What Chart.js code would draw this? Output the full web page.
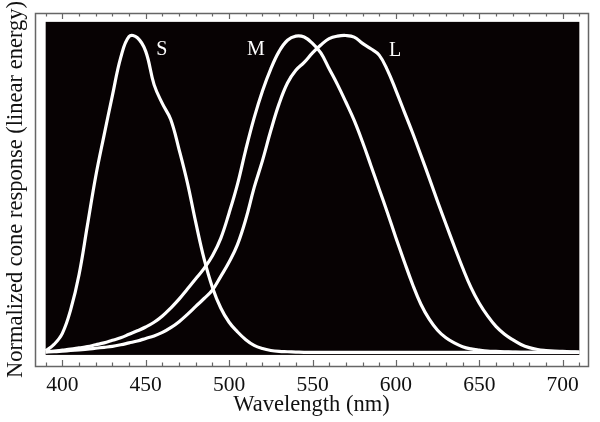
<!DOCTYPE html>
<html>
<head>
<meta charset="utf-8">
<title>Cone fundamentals</title>
<script src="https://cdn.jsdelivr.net/npm/chart.js@4.4.0/dist/chart.umd.min.js"></script>
<style>
  html, body { margin: 0; padding: 0; background: #fff; }
  #wrap { width: 600px; height: 422px; }
</style>
</head>
<body>
<div id="wrap"><canvas id="coneChart" width="600" height="422"></canvas></div>
<script>
// wavelength samples (nm)
const wavelengths = [
  390, 395, 400, 405, 410, 415, 420, 425, 430, 435, 440, 445, 450, 455, 460, 465, 470,
  475, 480, 485, 490, 495, 500, 505, 510, 515, 520, 525, 530, 535, 540, 545, 550,
  555, 560, 565, 570, 575, 580, 585, 590, 595, 600, 605, 610, 615, 620, 625, 630,
  635, 640, 645, 650, 655, 660, 665, 670, 675, 680, 685, 690, 695, 700, 705, 710
];

// normalized cone responses
const sCone = [
  0.005, 0.025, 0.06, 0.135, 0.245, 0.40, 0.555, 0.685, 0.81, 0.93, 0.997, 0.993, 0.95, 0.845, 0.785, 0.735, 0.64,
  0.535, 0.41, 0.295, 0.205, 0.14, 0.095, 0.065, 0.04, 0.022, 0.012, 0.006, 0.003, 0.002, 0.001, 0, 0,
  0, 0, 0, 0, 0, 0, 0, 0, 0, 0, 0, 0, 0, 0, 0, 0,
  0, 0, 0, 0, 0, 0, 0, 0, 0, 0, 0, 0, 0, 0, 0, 0
];
const mCone = [
  0.002, 0.004, 0.007, 0.01, 0.014, 0.018, 0.024, 0.03, 0.038, 0.046, 0.057, 0.068, 0.08, 0.095, 0.115, 0.14, 0.168,
  0.2, 0.232, 0.265, 0.305, 0.36, 0.44, 0.53, 0.64, 0.74, 0.825, 0.895, 0.95, 0.985, 0.998, 0.995, 0.975,
  0.945, 0.895, 0.845, 0.79, 0.732, 0.664, 0.59, 0.515, 0.44, 0.362, 0.287, 0.215, 0.152, 0.105, 0.07, 0.046,
  0.03, 0.018, 0.011, 0.007, 0.004, 0.003, 0.002, 0.001, 0, 0, 0, 0, 0, 0, 0, 0
];
const lCone = [
  0.001, 0.002, 0.004, 0.006, 0.008, 0.01, 0.013, 0.016, 0.019, 0.024, 0.03, 0.036, 0.044, 0.052, 0.063, 0.078, 0.097,
  0.12, 0.145, 0.17, 0.197, 0.24, 0.285, 0.34, 0.42, 0.52, 0.605, 0.70, 0.785, 0.85, 0.89, 0.915, 0.945,
  0.97, 0.99, 0.998, 1.0, 0.995, 0.975, 0.958, 0.938, 0.89, 0.827, 0.76, 0.693, 0.622, 0.55, 0.476, 0.405,
  0.335, 0.267, 0.205, 0.155, 0.115, 0.082, 0.058, 0.04, 0.025, 0.015, 0.009, 0.006, 0.004, 0.003, 0.002, 0.001
];
const coneNames = ["S", "M", "L"];

const serif = '"Liberation Serif", "DejaVu Serif", serif';
Chart.defaults.font.family = serif;
Chart.defaults.font.size = 21.5;
Chart.defaults.color = "#111";

const toPoints = (vals) => wavelengths.map((w, i) => ({ x: w, y: vals[i] }));

// black plotting field inside the frame
const plotField = {
  id: "plotField",
  beforeDatasetsDraw(chart) {
    const { ctx, scales: { x, y } } = chart;
    const l = x.getPixelForValue(390), r = x.getPixelForValue(710);
    const t = y.getPixelForValue(1.043), b = y.getPixelForValue(-0.008);
    ctx.save();
    ctx.fillStyle = "#070203";
    ctx.fillRect(l, t, r - l, b - t);
    ctx.restore();
  },
};

// grey frame with inward ticks on top and bottom
const frame = {
  id: "frame",
  afterDraw(chart) {
    const { ctx, chartArea: a, scales: { x } } = chart;
    ctx.save();
    ctx.strokeStyle = "#666";
    ctx.lineWidth = 1.5;
    ctx.strokeRect(a.left + 0.5, a.top + 0.5, a.right - a.left, a.bottom - a.top);
    ctx.lineWidth = 1.2;
    ctx.beginPath();
    x.ticks.forEach((t) => {
      const px = Math.round(x.getPixelForValue(t.value)) + 0.5;
      const len = t.value % 50 === 0 ? 6 : 3.5;
      ctx.moveTo(px, a.top);
      ctx.lineTo(px, a.top + len);
      ctx.moveTo(px, a.bottom);
      ctx.lineTo(px, a.bottom - len);
    });
    ctx.stroke();
    ctx.restore();
  },
};

// curve labels
const coneLabels = {
  id: "coneLabels",
  afterDatasetsDraw(chart) {
    const { ctx, scales: { x, y } } = chart;
    const spots = [[459.6, 0.955], [516, 0.955], [599.5, 0.953]];
    ctx.save();
    ctx.fillStyle = "#fff";
    ctx.font = "20px " + serif;
    ctx.textAlign = "center";
    ctx.textBaseline = "middle";
    coneNames.forEach((n, i) => {
      ctx.fillText(n, x.getPixelForValue(spots[i][0]), y.getPixelForValue(spots[i][1]));
    });
    ctx.restore();
  },
};

const lineStyle = {
  borderColor: "#fff",
  borderWidth: 3.2,
  pointRadius: 0,
  fill: false,
  tension: 0.4,
};

new Chart(document.getElementById("coneChart"), {
  type: "line",
  data: {
    datasets: [
      { label: coneNames[0], data: toPoints(sCone), ...lineStyle },
      { label: coneNames[1], data: toPoints(mCone), ...lineStyle },
      { label: coneNames[2], data: toPoints(lCone), ...lineStyle },
    ],
  },
  options: {
    responsive: false,
    animation: false,
    layout: { padding: { top: 13, right: 12, left: 0, bottom: 0 } },
    plugins: {
      legend: { display: false },
      tooltip: { enabled: false },
    },
    scales: {
      x: {
        type: "linear",
        min: 383.6,
        max: 715.2,
        grid: { display: false, drawTicks: false },
        border: { display: false },
        ticks: {
          stepSize: 10,
          includeBounds: false,
          autoSkip: false,
          maxRotation: 0,
          padding: 6,
          color: "#111",
          callback: (v) => (v % 50 === 0 ? v : ""),
        },
        title: {
          display: true,
          text: "Wavelength (nm)",
          color: "#111",
          font: { size: 22.5, lineHeight: 1 },
          padding: { top: 0, bottom: 6 },
        },
        afterFit: (s) => { s.height = 56; },
      },
      y: {
        min: -0.043,
        max: 1.071,
        grid: { display: false, drawTicks: false },
        border: { display: false },
        ticks: { display: false },
        title: {
          display: true,
          text: "Normalized cone response (linear energy)",
          color: "#111",
          font: { size: 22.5, lineHeight: 1 },
          padding: { top: 5, bottom: 0 },
        },
        afterFit: (s) => { s.width = 35; },
      },
    },
  },
  plugins: [plotField, frame, coneLabels],
});
</script>
</body>
</html>
